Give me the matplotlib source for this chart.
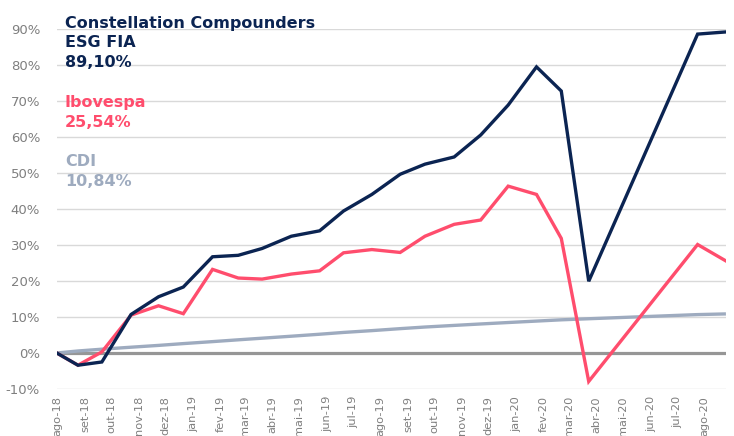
import numpy as np
import pandas as pd
import matplotlib.pyplot as plt
import matplotlib.dates as mdates
from matplotlib.ticker import FuncFormatter

dates = pd.to_datetime([
    '2018-07-31', '2018-08-24', '2018-09-20', '2018-10-23', '2018-11-23',
    '2018-12-21', '2019-01-23', '2019-02-21', '2019-03-20', '2019-04-22',
    '2019-05-24', '2019-06-20', '2019-07-22', '2019-08-23', '2019-09-20',
    '2019-10-23', '2019-11-22', '2019-12-23', '2020-01-24', '2020-02-21',
    '2020-03-23', '2020-07-24', '2020-08-25',
])

# Accumulated returns, %
fund = [0.0, -3.4, -2.5, 10.7, 15.6, 18.3, 26.7, 27.1, 29.0, 32.4,
        33.9, 39.4, 44.0, 49.6, 52.4, 54.4, 60.5, 68.8, 79.4, 72.7,
        19.9, 88.5, 89.1]
ibov = [0.0, -3.4, 0.3, 10.5, 13.1, 10.9, 23.2, 20.8, 20.5, 21.9,
        22.8, 27.8, 28.7, 27.9, 32.4, 35.7, 36.9, 46.3, 44.0, 31.8,
        -7.9, 30.1, 25.54]
cdi = [0.0, 0.55, 1.05, 1.6, 2.1, 2.6, 3.15, 3.65, 4.1, 4.65,
       5.2, 5.7, 6.2, 6.75, 7.2, 7.65, 8.05, 8.45, 8.85, 9.2,
       9.5, 10.65, 10.84]

month_labels = ['jan', 'fev', 'mar', 'abr', 'mai', 'jun',
                'jul', 'ago', 'set', 'out', 'nov', 'dez']

navy = '#0b2452'
pink = '#ff4d6d'
grey_blue = '#9eabbf'
tick_grey = '#7f7f7f'

fig = plt.figure(figsize=(7.34, 4.36), dpi=100)
ax = fig.add_axes([0.0773, 0.1078, 0.9117, 0.8264])

ax.plot(dates, cdi, color=grey_blue, lw=2.4, solid_capstyle='butt', zorder=3)
ax.plot(dates, ibov, color=pink, lw=2.4, solid_joinstyle='miter', zorder=4)
ax.plot(dates, fund, color=navy, lw=2.4, solid_joinstyle='miter', zorder=5)
ax.axhline(0, color='#969696', lw=2.3, zorder=2)

ax.set_ylim(-10, 90)
ax.set_yticks(np.arange(-10, 91, 10))
ax.yaxis.set_major_formatter(FuncFormatter(lambda v, p: f'{v:.0f}%'))
ax.set_xlim(dates[0], dates[-1])
ax.xaxis.set_major_locator(mdates.MonthLocator(bymonthday=1))
ax.xaxis.set_major_formatter(FuncFormatter(
    lambda v, p: f"{month_labels[mdates.num2date(v).month - 1]}-{mdates.num2date(v).year % 100:02d}"))

ax.grid(axis='y', color='#d9d9d9', lw=1)
ax.set_axisbelow(True)
for s in ax.spines.values():
    s.set_visible(False)
ax.tick_params(axis='y', length=0, pad=12, labelsize=9.5, labelcolor=tick_grey)
ax.tick_params(axis='x', length=0, pad=5, labelsize=8.2, labelcolor=tick_grey,
               labelrotation=90)

# Series names and final values
txt = dict(transform=fig.transFigure, fontsize=11.5, fontweight='bold',
           ha='left', va='baseline', linespacing=1.38)
fig.text(65 / 734, 1 - 66.7 / 436, 'Constellation Compounders\nESG FIA\n89,10%',
         color=navy, **txt)
fig.text(65 / 734, 1 - 126.7 / 436, 'Ibovespa\n25,54%', color=pink, **txt)
fig.text(65 / 734, 1 - 185.7 / 436, 'CDI\n10,84%', color=grey_blue, **txt)

plt.savefig('out.png', dpi=100)
plt.close()
